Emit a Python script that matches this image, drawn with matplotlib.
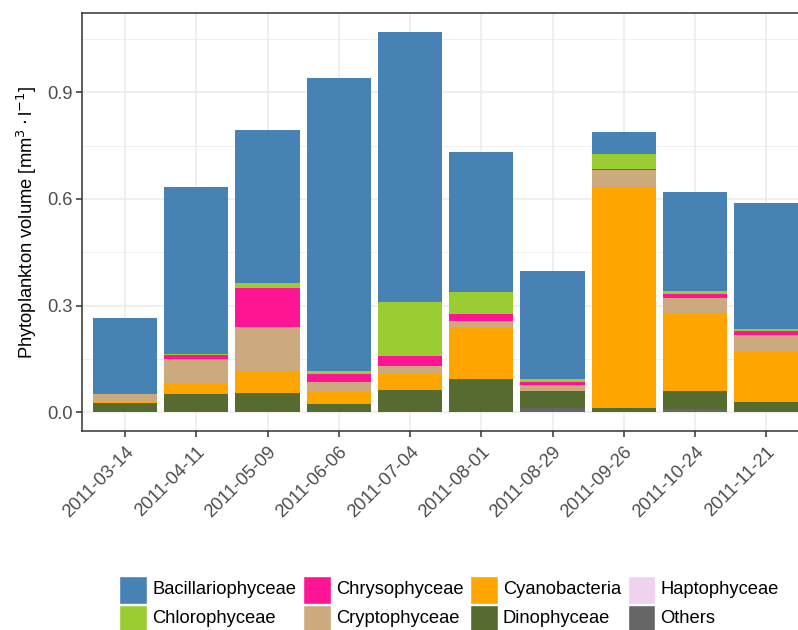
import numpy as np
import matplotlib
matplotlib.use('Agg')
import matplotlib.pyplot as plt
from matplotlib.patches import Rectangle

plt.rcParams['font.family'] = ['Liberation Sans', 'DejaVu Sans']

dates = ['2011-03-14', '2011-04-11', '2011-05-09', '2011-06-06', '2011-07-04',
         '2011-08-01', '2011-08-29', '2011-09-26', '2011-10-24', '2011-11-21']

# volume per class, mm3/l
bacillariophyceae = [0.213, 0.469, 0.430, 0.824, 0.760, 0.394, 0.304, 0.061, 0.279, 0.355]
chlorophyceae     = [0.000, 0.004, 0.014, 0.008, 0.152, 0.061, 0.009, 0.042, 0.008, 0.005]
chrysophyceae     = [0.000, 0.011, 0.110, 0.023, 0.028, 0.020, 0.008, 0.003, 0.011, 0.011]
cryptophyceae     = [0.022, 0.067, 0.124, 0.025, 0.021, 0.017, 0.017, 0.051, 0.043, 0.045]
cyanobacteria     = [0.004, 0.031, 0.062, 0.037, 0.046, 0.146, 0.000, 0.619, 0.219, 0.143]
dinophyceae       = [0.024, 0.050, 0.053, 0.022, 0.060, 0.093, 0.047, 0.011, 0.050, 0.027]
haptophyceae      = [0.001, 0.001, 0.000, 0.000, 0.000, 0.000, 0.000, 0.000, 0.000, 0.002]
others            = [0.000, 0.000, 0.000, 0.000, 0.002, 0.000, 0.012, 0.000, 0.009, 0.000]

groups = ['Bacillariophyceae', 'Chlorophyceae', 'Chrysophyceae', 'Cryptophyceae',
          'Cyanobacteria', 'Dinophyceae', 'Haptophyceae', 'Others']
values = [bacillariophyceae, chlorophyceae, chrysophyceae, cryptophyceae,
          cyanobacteria, dinophyceae, haptophyceae, others]
colors = ['#4682B4', '#9ACD32', '#FF1493', '#CDAA7D',
          '#FFA500', '#556B2F', '#EED2EE', '#666666']

FS = 13.2
W, H = 798, 630
fig = plt.figure(figsize=(W / 100, H / 100), dpi=100)
# panel runs a bit past the right edge of the figure
ax = fig.add_axes([82.3 / W, 1 - 431.3 / H, (809 - 82.3) / W, (431.3 - 13.3) / H])

x = np.arange(len(dates))
bottom = np.zeros(len(dates))
# stack from the last group upwards so Bacillariophyceae ends on top
for name, vals, col in reversed(list(zip(groups, values, colors))):
    v = np.array(vals)
    ax.bar(x, v, 0.9, bottom=bottom, color=col, linewidth=0, zorder=3)
    bottom += v

ax.set_xlim(-0.6, len(dates) - 0.4)
ax.set_ylim(-0.0534, 1.122)
ax.set_yticks([0.0, 0.3, 0.6, 0.9])
ax.set_yticklabels(['0.0', '0.3', '0.6', '0.9'])
ax.set_yticks([0.15, 0.45, 0.75, 1.05], minor=True)
ax.set_xticks(x)
ax.set_xticklabels(dates, rotation=45, ha='right', va='top', rotation_mode='anchor')

ax.grid(True, which='major', color='#EBEBEB', linewidth=1.1, zorder=0)
ax.grid(True, which='minor', axis='y', color='#EBEBEB', linewidth=0.55, zorder=0)
ax.set_axisbelow(True)
for s in ax.spines.values():
    s.set_color('#333333')
    s.set_linewidth(1.1)
ax.tick_params(axis='both', which='major', length=4, width=1.1, color='#333333',
               labelcolor='#4D4D4D', labelsize=FS, pad=3)
ax.tick_params(axis='x', which='major', pad=5)
ax.tick_params(axis='both', which='minor', length=0)

ax.set_ylabel(r'Phytoplankton volume [mm$^3\cdot$l$^{-1}$]', fontsize=FS, labelpad=6)

# legend, two rows filled column by column
key_x = [119, 303, 470, 627.5]
key_y = [576, 604.5]
for i, (name, col) in enumerate(zip(groups, colors)):
    cx = key_x[i // 2]
    cy = key_y[i % 2]
    fig.add_artist(Rectangle((cx / W, 1 - (cy + 27.5) / H), 27.5 / W, 27.5 / H,
                             facecolor=col, edgecolor='white', linewidth=1,
                             transform=fig.transFigure))
    fig.text((cx + 33) / W, 1 - (cy + 14) / H, name, fontsize=FS,
             va='center', ha='left', color='black')

fig.savefig('out.png', dpi=100)
